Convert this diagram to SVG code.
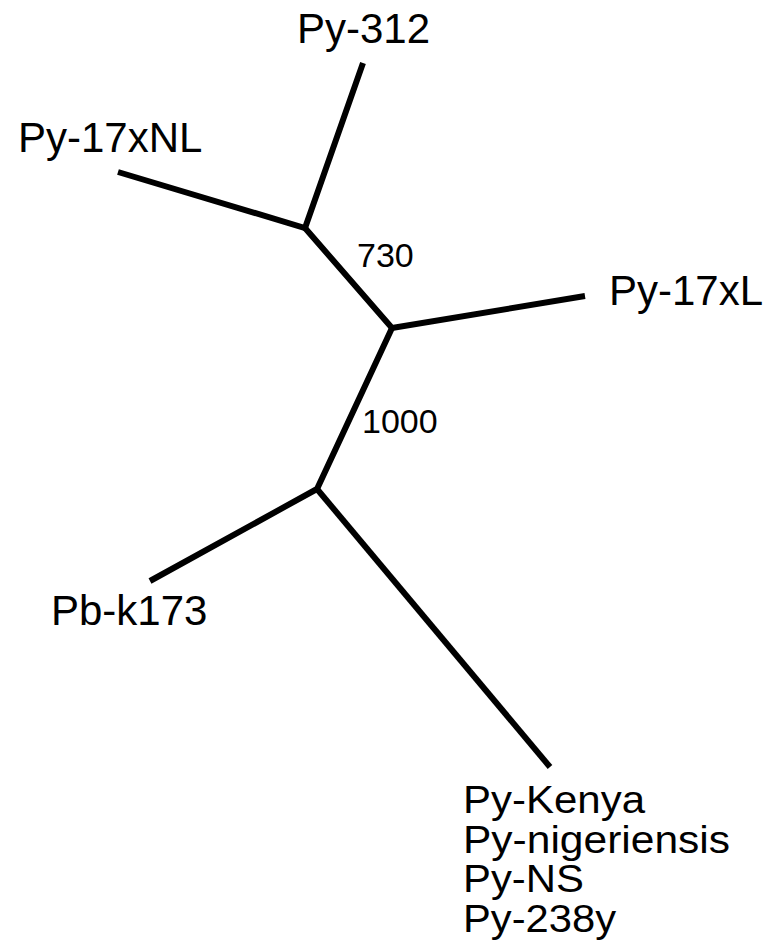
<svg xmlns="http://www.w3.org/2000/svg" width="768" height="944" viewBox="0 0 768 944">
<style>
.lbl{font-family:"Liberation Sans",Arial,sans-serif;font-size:42px;fill:#000}
.grp{font-family:"Liberation Sans",Arial,sans-serif;font-size:38px;fill:#000}
.bs{font-family:"Liberation Sans",Arial,sans-serif;font-size:34px;fill:#000}
.br{stroke:#000;stroke-width:6;fill:none;stroke-linecap:butt;stroke-linejoin:miter}
</style>
<rect width="768" height="944" fill="#fff"/>
<g id="connectors">
<polyline class="br" points="363,63 305,228 118,172"/>
<polyline class="br" points="305,228 392,328 585,296"/>
<polyline class="br" points="392,328 317,489 150,581"/>
<line class="br" x1="317" y1="489" x2="550" y2="767"/>
</g>
<g id="node-py312"><text class="lbl" x="297" y="43">Py-312</text></g>
<g id="node-py17xnl"><text class="lbl" x="18" y="152">Py-17xNL</text></g>
<g id="node-py17xl"><text class="lbl" x="609" y="305">Py-17xL</text></g>
<g id="node-pbk173"><text class="lbl" x="51" y="625" font-size="41">Pb-k173</text></g>
<g id="node-pygroup">
<text class="grp" x="463" y="813" textLength="182" lengthAdjust="spacingAndGlyphs">Py-Kenya</text>
<text class="grp" x="463" y="853" textLength="267" lengthAdjust="spacingAndGlyphs">Py-nigeriensis</text>
<text class="grp" x="463" y="892" textLength="121" lengthAdjust="spacingAndGlyphs">Py-NS</text>
<text class="grp" x="463" y="932" textLength="153" lengthAdjust="spacingAndGlyphs">Py-238y</text>
</g>
<g id="bootstrap">
<text class="bs" x="357" y="267">730</text>
<text class="bs" x="362" y="433">1000</text>
</g>
</svg>
